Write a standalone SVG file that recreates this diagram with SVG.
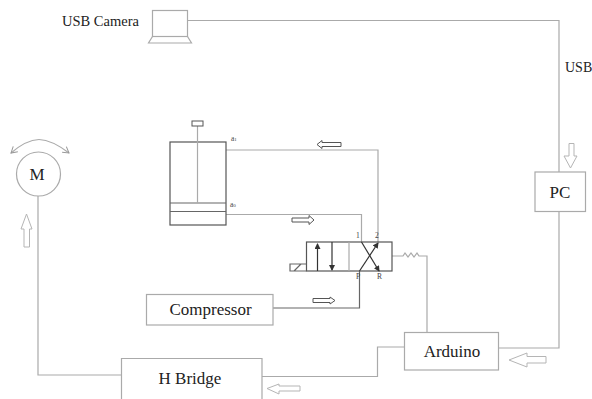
<svg xmlns="http://www.w3.org/2000/svg" width="592" height="399" viewBox="0 0 592 399">
<defs>
<marker id="ah" markerWidth="6" markerHeight="6" refX="5" refY="3" orient="auto" markerUnits="userSpaceOnUse"><path d="M0,0 L6,3 L0,6 Z" fill="#333"/></marker>
<marker id="open" markerWidth="8" markerHeight="8" refX="7" refY="4" orient="auto" markerUnits="userSpaceOnUse"><path d="M1,0.500 L7,4 L1,7.500" fill="none" stroke="#999" stroke-width="1"/></marker>
</defs>
<style>
text{font-family:"Liberation Serif","Times New Roman",serif;fill:#222}
.t{font-size:17px;text-anchor:middle}
.s{font-size:7.500px;fill:#444}
.box{fill:#fff;stroke:#aaa;stroke-width:1.2}
.ln{fill:none;stroke:#aaa;stroke-width:1.2}
.dk{fill:none;stroke:#666;stroke-width:1.2}
.ba{fill:#fff;stroke:#555;stroke-width:1}
.bl{fill:#fff;stroke:#b5b5b5;stroke-width:1}
</style>
<rect width="592" height="399" fill="#fff"/>
<g id="connectors">
<path class="ln" d="M187.500 20.500H559V172"/>
<path class="ln" d="M559 211V348H498"/>
<path class="ln" d="M404 347H377.500V376.500H262"/>
<path class="ln" d="M122 375H38V196"/>
<path class="ln" d="M226 150H378V242"/>
<path class="ln" d="M226 214.500H361.500V242"/>
<path class="dk" d="M273 308H359.500V271"/>
<path class="ln" d="M392 256H400L403 256 405 253 408 257 411 253 414 257 417 253 419 256 427 256V332"/>
<path class="ln" d="M39 139.500Q26 140 11 153" marker-end="url(#open)"/>
<path class="ln" d="M39 139.500Q52 140 69 153" marker-end="url(#open)"/>
</g>
<g id="usb-camera">
<rect class="box" x="152.500" y="10.500" width="35" height="26"/>
<path class="ln" d="M152.500 36.500L148.500 43H191.500L187.500 36.500"/>
<text x="62" y="26" style="font-size:14.500px">USB Camera</text>
</g>
<text id="usb-label" x="565" y="72" style="font-size:14px">USB</text>
<g id="pc"><rect class="box" x="535" y="172" width="50.500" height="39.500"/><text class="t" x="560" y="198">PC</text></g>
<g id="arduino"><rect class="box" x="404.500" y="332.500" width="94" height="37.500"/><text class="t" x="452" y="357">Arduino</text></g>
<g id="h-bridge"><path class="box" d="M121.500 399V358.500H262V399"/><text class="t" x="190" y="384">H Bridge</text></g>
<g id="compressor"><rect class="box" x="146.500" y="294.500" width="126.500" height="30.500"/><text class="t" x="210.500" y="315">Compressor</text></g>
<g id="motor"><circle class="box" cx="38.500" cy="174" r="22"/><text class="t" x="37" y="180">M</text></g>
<g id="cylinder">
<rect x="170" y="142" width="56" height="83" fill="#fff" stroke="#555" stroke-width="1.200"/>
<path class="dk" d="M170 203H226M170 211.500H226"/>
<path class="ln" d="M197.500 126V203"/>
<rect x="192" y="121" width="11" height="5" fill="#fff" stroke="#555"/>
<text class="s" x="231" y="141">a<tspan font-size="5px">1</tspan></text>
<text class="s" x="230" y="207">a<tspan font-size="5px">0</tspan></text>
</g>
<g id="valve">
<rect x="306.500" y="242" width="85.500" height="29" fill="#fff" stroke="#555" stroke-width="1.200"/>
<path class="ln" d="M349 242V271"/>
<path class="dk" d="M306.500 264H290V271H306.500M294 271L301 264"/>
<path d="M317.500 271V244" stroke="#333" stroke-width="1.200" marker-end="url(#ah)"/>
<path d="M332 242V270" stroke="#333" stroke-width="1.200" marker-end="url(#ah)"/>
<path d="M361.500 242L379 271" stroke="#333" stroke-width="1.200" marker-end="url(#ah)"/>
<path d="M359.500 271L378 243" stroke="#333" stroke-width="1.200" marker-end="url(#ah)"/>
<text class="s" x="356" y="238">1</text>
<text class="s" x="375" y="238">2</text>
<text class="s" x="356" y="279">P</text>
<text class="s" x="377" y="279">R</text>
</g>
<g id="flow-arrows">
<path class="ba" d="M341 142.500V146.500H322V148.500L317 144.500 322 140.500V142.500Z"/>
<path class="ba" d="M292 218V222H309V224.500L314 220 309 215.500V218Z"/>
<path class="ba" d="M313 298.500V302.500H330V304L335 300.500 330 297V298.500Z"/>
<path class="bl" d="M569 143.500H574V156H577L570.500 168 564 156H569Z"/>
<path class="bl" d="M546 356.500V363H527V367L509 360 527 353V356.500Z"/>
<path class="bl" d="M300 386V391H279V394L267 388.500 279 384V386Z"/>
<path class="bl" d="M24 247H29.500V229H32L26.500 214 21 229H24Z"/>
</g>
</svg>
